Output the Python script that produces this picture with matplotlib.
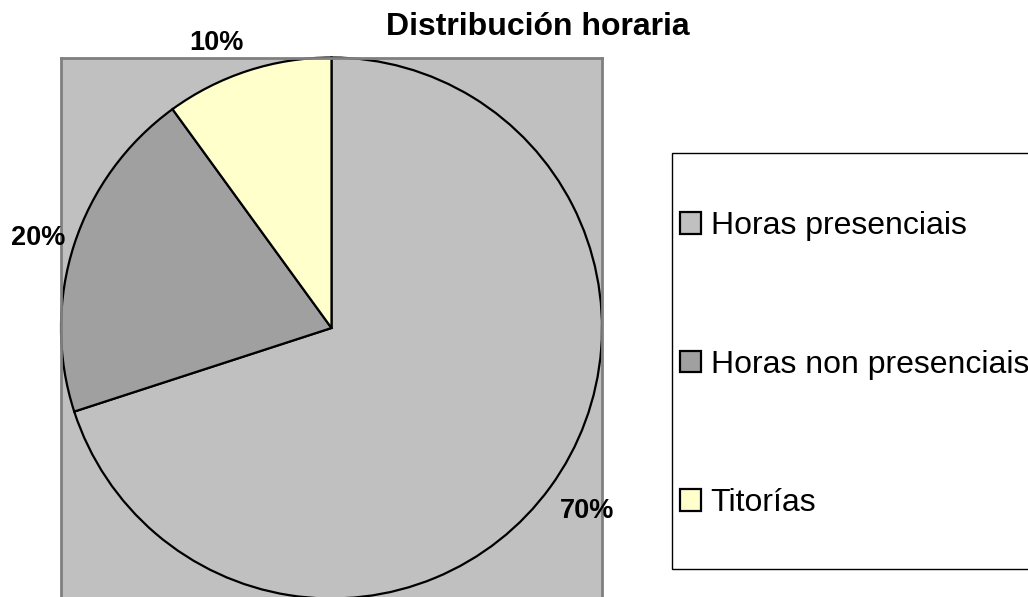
import matplotlib
matplotlib.use("Agg")
import matplotlib.pyplot as plt
from matplotlib.patches import Rectangle
from matplotlib.transforms import offset_copy

plt.rcParams['font.family'] = ['Liberation Sans', 'DejaVu Sans']

title = "Distribución horaria"
categories = ["Horas presenciais", "Horas non presenciais", "Titorías"]
values = [70, 20, 10]
colors = ["#C0C0C0", "#A0A0A0", "#FFFFCC"]

W, H = 1028, 597
fig = plt.figure(figsize=(W / 100, H / 100), dpi=100)

# pie axes (gray plot area)
cx, cy, r = 331.5, 328, 270.5
ax = fig.add_axes([(cx - r) / W, (H - cy - r) / H, 2 * r / W, 2 * r / H])
ax.set_facecolor("#C0C0C0")
for s in ax.spines.values():
    s.set_color("#808080")
    s.set_linewidth(2)
ax.set_xticks([])
ax.set_yticks([])

wedges, texts, autotexts = ax.pie(
    values, colors=colors, startangle=90, counterclock=False,
    radius=1.0, autopct=lambda p: f"{p:.0f}%", pctdistance=1.14,
    wedgeprops=dict(edgecolor="black", linewidth=1.6),
    textprops=dict(fontsize=19.5, fontweight="bold", color="black"),
    frame=True)
# fine placement of percentage labels (pixel nudges, Excel-like)
nudges = [(6, -2), (0, -5), (-20, -8)]
for t, (dx, dy) in zip(autotexts, nudges):
    t.set_transform(offset_copy(ax.transData, fig=fig, x=dx, y=dy, units='dots'))
    t.set_clip_on(False)
ax.set_xlim(-1, 1)
ax.set_ylim(-1, 1)
ax.set_aspect("auto")

fig.text(538 / W, 1 - 27 / H, title, ha="center", va="center",
         fontsize=23, fontweight="bold")

# legend frame
fig.patches.append(Rectangle((672 / W, (H - 569) / H), (1100 - 672) / W, (569 - 153) / H,
                             transform=fig.transFigure, facecolor="white",
                             edgecolor="black", linewidth=1.0, zorder=0))

leg = fig.legend(wedges, categories, loc="upper left",
                 bbox_to_anchor=(680 / W, 1 - 211 / H), frameon=False,
                 fontsize=23, handlelength=0.66, handleheight=0.66,
                 handletextpad=0.3, labelspacing=3.4, borderpad=0,
                 borderaxespad=0)

fig.savefig("out.png", dpi=100)
